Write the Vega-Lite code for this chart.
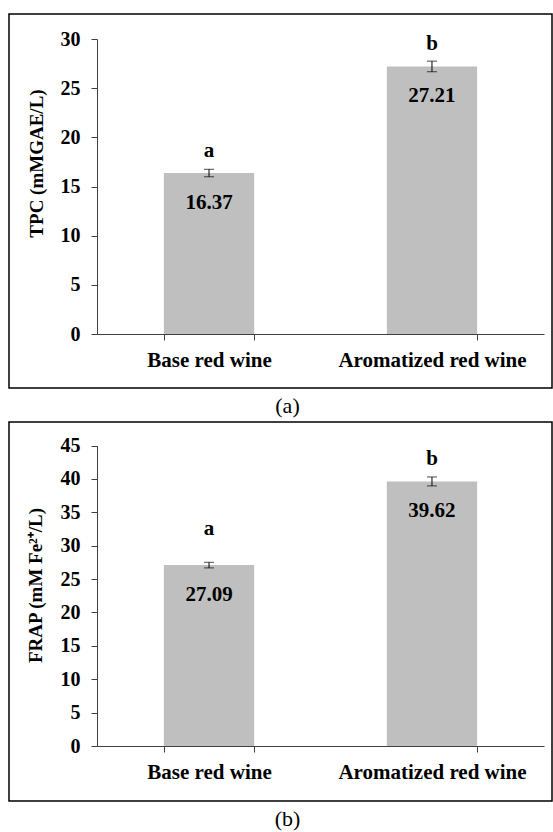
{
  "$schema": "https://vega.github.io/schema/vega-lite/v6.json",
  "padding": {"left": 8, "top": 13, "right": 0, "bottom": 0},
  "background": "white",
  "datasets": {
    "tpc": [
      {"wine": "Base red wine", "value": 16.37, "err": 0.38, "group": "a"},
      {"wine": "Aromatized red wine", "value": 27.21, "err": 0.54, "group": "b"}
    ],
    "frap": [
      {"wine": "Base red wine", "value": 27.09, "err": 0.42, "group": "a"},
      {"wine": "Aromatized red wine", "value": 39.62, "err": 0.67, "group": "b"}
    ]
  },
  "config": {
    "font": "Liberation Serif, Times New Roman, serif",
    "view": {"stroke": "black", "strokeWidth": 1.5},
    "axis": {
      "labelFont": "Liberation Serif, Times New Roman, serif", "labelFontWeight": "bold", "labelFontSize": 20, "labelColor": "black",
      "titleFont": "Liberation Serif, Times New Roman, serif", "titleFontWeight": "bold", "titleFontSize": 19, "titleColor": "black",
      "domainColor": "#404040", "tickColor": "#404040", "grid": false, "tickSize": 6, "zindex": 1
    },
    "text": {"font": "Liberation Serif, Times New Roman, serif"},
    "title": {"font": "Liberation Serif, Times New Roman, serif", "fontSize": 22, "fontWeight": "normal", "color": "black", "orient": "bottom", "anchor": "middle", "offset": 8, "dx": 7},
    "concat": {"spacing": 3}
  },
  "vconcat": [
    {
      "width": 543, "height": 374,
      "title": {"text": "(a)"},
      "data": {"name": "tpc"},
      "encoding": {
        "x": {"field": "wine", "type": "nominal", "sort": null,
          "scale": {"range": [88, 535], "paddingInner": 0.595, "paddingOuter": 0.3},
          "axis": {"title": null, "orient": "bottom", "offset": -54, "labelAngle": 0, "labelFontSize": 21, "labelPadding": 9, "labelLimit": 400, "labelOverlap": false, "tickBand": "extent"}},
        "y": {"field": "value", "type": "quantitative",
          "scale": {"domain": [0, 30], "range": [320, 25], "nice": false},
          "axis": {"title": "TPC (mMGAE/L)", "offset": -88, "values": [0, 5, 10, 15, 20, 25, 30], "labelPadding": 11, "titleX": -61, "titleY": 149, "titleBaseline": "middle", "titleAngle": -90}}
      },
      "layer": [
        {"mark": {"type": "bar", "color": "#BFBFBF"}},
        {"mark": {"type": "errorbar", "color": "black", "rule": {"color": "black", "strokeWidth": 1}, "ticks": {"size": 10, "thickness": 1, "color": "black"}}, "encoding": {"yError": {"field": "err"}}},
        {"mark": {"type": "text", "dy": 30, "baseline": "middle", "fontSize": 21, "fontWeight": "bold", "color": "black"}, "encoding": {"text": {"field": "value", "type": "quantitative", "format": ".2f"}}},
        {"mark": {"type": "text", "dy": -22, "baseline": "middle", "fontSize": 21, "fontWeight": "bold", "color": "black"}, "encoding": {"text": {"field": "group", "type": "nominal"}}}
      ]
    },
    {
      "width": 543, "height": 379,
      "title": {"text": "(b)"},
      "data": {"name": "frap"},
      "encoding": {
        "x": {"field": "wine", "type": "nominal", "sort": null,
          "scale": {"range": [88, 535], "paddingInner": 0.595, "paddingOuter": 0.3},
          "axis": {"title": null, "orient": "bottom", "offset": -55, "labelAngle": 0, "labelFontSize": 21, "labelPadding": 9, "labelLimit": 400, "labelOverlap": false, "tickBand": "extent"}},
        "y": {"field": "value", "type": "quantitative",
          "scale": {"domain": [0, 45], "range": [324, 23.5], "nice": false},
          "axis": {"title": "FRAP (mM Fe²⁺/L)", "offset": -88, "values": [0, 5, 10, 15, 20, 25, 30, 35, 40, 45], "labelPadding": 11, "titleX": -62, "titleY": 163, "titleBaseline": "middle", "titleAngle": -90}}
      },
      "layer": [
        {"mark": {"type": "bar", "color": "#BFBFBF"}},
        {"mark": {"type": "errorbar", "color": "black", "rule": {"color": "black", "strokeWidth": 1}, "ticks": {"size": 10, "thickness": 1, "color": "black"}}, "encoding": {"yError": {"field": "err"}}},
        {"mark": {"type": "text", "dy": 30, "baseline": "middle", "fontSize": 21, "fontWeight": "bold", "color": "black"}, "encoding": {"text": {"field": "value", "type": "quantitative", "format": ".2f"}}},
        {"transform": [{"filter": "datum.group == 'a'"}], "mark": {"type": "text", "dy": -36, "baseline": "middle", "fontSize": 21, "fontWeight": "bold", "color": "black"}, "encoding": {"text": {"field": "group", "type": "nominal"}}},
        {"transform": [{"filter": "datum.group == 'b'"}], "mark": {"type": "text", "dy": -22, "baseline": "middle", "fontSize": 21, "fontWeight": "bold", "color": "black"}, "encoding": {"text": {"field": "group", "type": "nominal"}}}
      ]
    }
  ]
}
